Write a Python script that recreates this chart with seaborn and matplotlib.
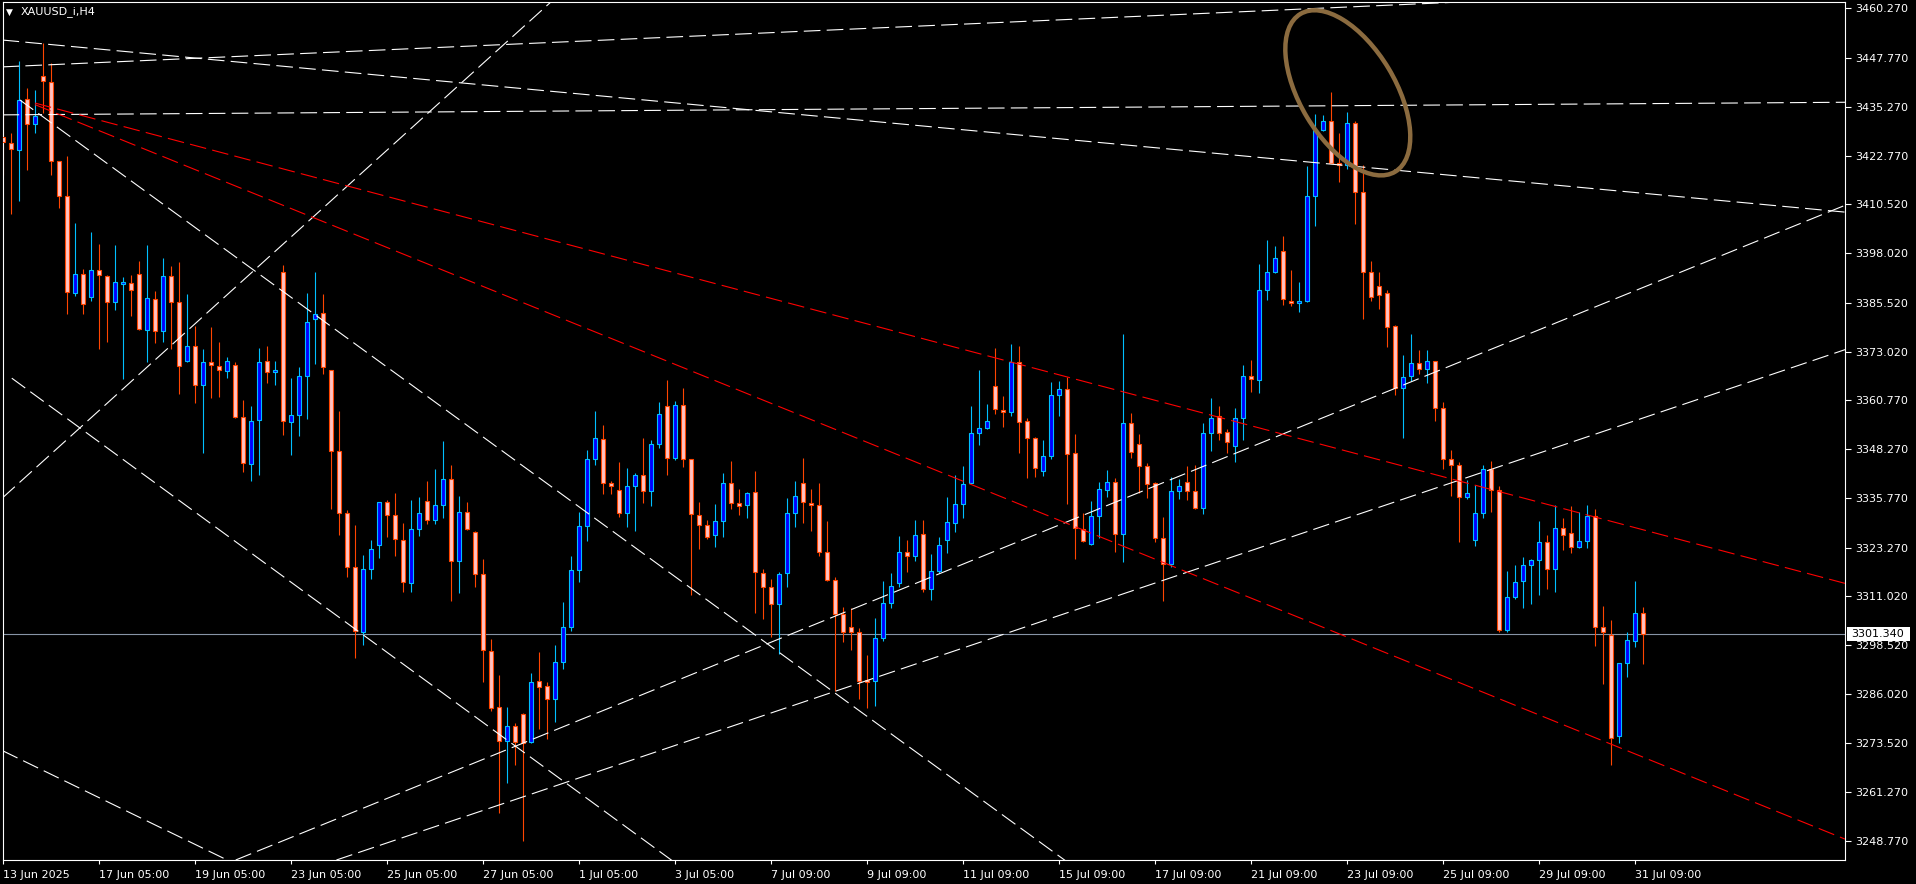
import numpy as np
import pandas as pd
import matplotlib
matplotlib.use("Agg")
import matplotlib.pyplot as plt
import seaborn as sns
from matplotlib.patches import Ellipse, Rectangle
from matplotlib.transforms import IdentityTransform

# XAUUSD_i H4 bars
opens = [3427.6, 3426.0, 3424.3, 3437.3, 3430.8, 3443.2, 3441.6, 3421.4, 3412.6, 3387.9,
         3392.7, 3386.8, 3393.7, 3392.3, 3385.6, 3390.3, 3390.6, 3392.7, 3378.5, 3386.3,
         3378.2, 3392.2, 3385.6, 3370.7, 3374.4, 3364.5, 3370.3, 3369.3, 3368.0, 3369.6,
         3356.4, 3344.4, 3355.6, 3370.6, 3367.8, 3393.4, 3355.1, 3356.9, 3366.8, 3381.3,
         3382.8, 3368.5, 3347.7, 3332.1, 3318.4, 3301.7, 3317.9, 3324.0, 3334.8, 3331.6,
         3325.1, 3314.2, 3328.1, 3335.0, 3330.2, 3334.1, 3340.6, 3319.8, 3332.2, 3327.1,
         3316.5, 3296.9, 3282.8, 3274.1, 3278.0, 3281.1, 3273.8, 3289.3, 3288.0, 3284.9,
         3294.1, 3303.0, 3317.5, 3328.7, 3345.7, 3350.8, 3339.6, 3337.8, 3332.0, 3338.8,
         3341.6, 3337.6, 3349.5, 3359.2, 3345.9, 3359.4, 3345.7, 3331.5, 3328.9, 3326.4,
         3329.9, 3339.6, 3334.5, 3334.0, 3337.3, 3316.7, 3313.2, 3308.8, 3316.7, 3332.0,
         3339.6, 3334.5, 3334.0, 3322.1, 3314.9, 3306.3, 3303.0, 3301.7, 3289.5, 3289.3,
         3300.2, 3309.1, 3314.2, 3322.1, 3321.0, 3326.6, 3312.7, 3317.2, 3325.1, 3329.4,
         3334.3, 3339.6, 3352.3, 3353.6, 3364.2, 3358.1, 3357.6, 3370.3, 3355.3, 3351.0,
         3342.6, 3346.4, 3361.9, 3363.5, 3347.2, 3327.9, 3324.1, 3331.2, 3337.8, 3339.8,
         3326.6, 3354.8, 3349.7, 3343.9, 3339.6, 3325.6, 3319.0, 3337.6, 3339.9, 3337.6,
         3333.3, 3352.3, 3356.6, 3352.5, 3349.0, 3356.3, 3366.8, 3365.9, 3388.6, 3393.4,
         3398.5, 3385.9, 3385.3, 3385.9, 3412.5, 3429.4, 3431.6, 3420.9, 3420.4, 3431.1,
         3413.6, 3393.2, 3389.8, 3387.9, 3379.5, 3363.9, 3366.8, 3370.1, 3368.6, 3370.6,
         3358.6, 3345.7, 3344.2, 3336.0, 3325.1, 3332.0, 3343.1, 3337.8, 3302.2, 3310.6,
         3314.7, 3318.8, 3320.0, 3324.6, 3317.8, 3328.2, 3326.9, 3323.3, 3324.9, 3331.2,
         3303.0, 3301.0, 3275.3, 3293.9, 3299.5, 3306.6]
highs = [3444.6, 3428.6, 3446.9, 3440.0, 3439.6, 3451.5, 3446.4, 3421.4, 3422.7, 3405.7,
         3394.0, 3403.4, 3400.3, 3392.5, 3400.1, 3392.0, 3392.4, 3396.1, 3400.1, 3388.4,
         3396.8, 3394.8, 3395.8, 3387.8, 3379.5, 3373.6, 3379.2, 3375.4, 3371.6, 3370.3,
         3360.8, 3359.3, 3373.9, 3374.4, 3370.6, 3395.0, 3366.3, 3369.1, 3387.9, 3393.4,
         3387.6, 3368.5, 3358.0, 3332.9, 3329.0, 3321.4, 3325.2, 3334.8, 3335.3, 3337.1,
         3329.5, 3335.3, 3336.1, 3340.1, 3343.2, 3350.3, 3344.2, 3336.4, 3334.8, 3327.4,
         3320.3, 3300.0, 3290.9, 3282.8, 3278.7, 3281.2, 3291.5, 3296.7, 3289.0, 3298.5,
         3309.5, 3321.1, 3332.2, 3348.1, 3358.0, 3354.4, 3340.3, 3344.9, 3343.6, 3342.1,
         3351.0, 3350.5, 3360.2, 3365.8, 3360.4, 3363.7, 3345.7, 3334.8, 3330.2, 3334.3,
         3342.1, 3345.2, 3338.1, 3337.3, 3342.6, 3317.8, 3315.2, 3317.0, 3335.8, 3340.3,
         3346.0, 3338.1, 3339.6, 3329.9, 3315.7, 3308.1, 3307.8, 3302.8, 3295.9, 3305.3,
         3314.7, 3316.7, 3326.1, 3325.1, 3330.2, 3330.2, 3321.5, 3325.9, 3336.0, 3341.6,
         3343.9, 3359.2, 3368.5, 3359.7, 3373.9, 3361.7, 3374.9, 3374.6, 3356.3, 3351.3,
         3350.5, 3365.3, 3365.5, 3366.5, 3352.0, 3332.0, 3335.0, 3339.8, 3342.9, 3340.9,
         3377.5, 3357.4, 3352.0, 3344.7, 3339.8, 3331.0, 3341.1, 3340.6, 3343.9, 3344.2,
         3354.8, 3361.2, 3359.2, 3353.3, 3358.6, 3369.6, 3370.8, 3395.2, 3401.5, 3399.8,
         3402.5, 3393.8, 3390.7, 3420.2, 3433.3, 3433.1, 3439.0, 3428.5, 3434.0, 3431.6,
         3420.4, 3396.0, 3393.4, 3388.8, 3379.8, 3372.1, 3377.5, 3373.5, 3373.5, 3370.6,
         3360.2, 3348.0, 3344.9, 3340.4, 3339.1, 3344.2, 3345.2, 3338.8, 3317.2, 3318.8,
         3320.8, 3320.3, 3329.9, 3326.4, 3334.0, 3330.7, 3333.8, 3332.2, 3334.0, 3333.0,
         3308.3, 3304.8, 3293.9, 3301.7, 3314.7, 3308.1]
lows = [3417.9, 3408.0, 3411.4, 3419.3, 3428.7, 3433.7, 3417.9, 3409.5, 3382.5, 3387.3,
        3382.7, 3386.0, 3373.8, 3375.6, 3383.5, 3366.2, 3382.2, 3378.5, 3370.5, 3375.3,
        3375.6, 3373.8, 3362.4, 3370.5, 3360.1, 3347.4, 3361.3, 3361.6, 3366.4, 3356.1,
        3342.5, 3340.3, 3341.8, 3365.0, 3364.6, 3351.9, 3346.9, 3351.7, 3355.9, 3369.8,
        3367.3, 3333.1, 3326.5, 3315.9, 3295.3, 3298.5, 3315.3, 3320.7, 3325.9, 3321.1,
        3311.9, 3312.0, 3326.2, 3329.2, 3329.2, 3330.9, 3309.8, 3311.8, 3327.7, 3313.2,
        3289.2, 3281.8, 3255.9, 3263.5, 3268.0, 3248.8, 3273.5, 3277.2, 3274.5, 3279.0,
        3292.4, 3302.1, 3314.4, 3325.0, 3344.3, 3336.8, 3336.8, 3331.0, 3328.6, 3327.5,
        3334.5, 3333.7, 3348.5, 3341.8, 3345.4, 3343.8, 3311.3, 3323.0, 3325.4, 3323.5,
        3326.0, 3333.0, 3331.5, 3330.7, 3306.6, 3305.0, 3300.5, 3296.2, 3313.2, 3328.4,
        3329.6, 3327.4, 3321.1, 3314.7, 3286.9, 3299.2, 3297.2, 3284.9, 3282.6, 3283.1,
        3299.4, 3307.8, 3313.2, 3317.0, 3319.8, 3311.9, 3309.9, 3316.7, 3321.8, 3327.1,
        3330.9, 3339.6, 3349.3, 3353.3, 3357.1, 3353.8, 3356.6, 3347.2, 3340.9, 3341.1,
        3341.4, 3345.7, 3356.6, 3334.3, 3320.3, 3324.6, 3323.8, 3325.6, 3336.0, 3322.1,
        3319.5, 3345.9, 3337.1, 3335.8, 3324.6, 3309.6, 3318.3, 3335.5, 3335.3, 3333.0,
        3331.7, 3347.7, 3350.5, 3347.2, 3344.9, 3350.5, 3362.7, 3362.5, 3386.2, 3393.0,
        3384.9, 3384.7, 3383.2, 3385.6, 3405.0, 3429.2, 3420.9, 3416.2, 3419.5, 3405.5,
        3381.4, 3386.0, 3383.9, 3374.2, 3362.0, 3351.2, 3365.6, 3367.3, 3365.0, 3355.3,
        3343.1, 3336.4, 3324.8, 3335.5, 3323.7, 3330.7, 3332.2, 3301.7, 3301.7, 3310.1,
        3307.8, 3308.8, 3311.1, 3312.7, 3311.9, 3322.6, 3321.8, 3323.1, 3323.1, 3298.2,
        3288.5, 3268.0, 3273.5, 3290.3, 3297.9, 3293.6]
closes = [3426.3, 3424.6, 3437.1, 3430.8, 3433.0, 3441.8, 3421.4, 3412.6, 3388.2, 3392.7,
          3385.1, 3393.7, 3392.4, 3385.6, 3390.7, 3390.6, 3388.6, 3378.7, 3386.6, 3378.2,
          3392.2, 3385.6, 3369.3, 3374.4, 3364.5, 3370.3, 3369.6, 3368.3, 3370.6, 3356.4,
          3344.7, 3355.3, 3370.3, 3367.8, 3368.3, 3355.3, 3356.9, 3366.8, 3380.5, 3382.6,
          3369.1, 3347.7, 3332.0, 3318.3, 3302.1, 3317.9, 3323.0, 3334.8, 3331.6, 3325.4,
          3314.6, 3328.1, 3332.0, 3330.2, 3334.1, 3340.6, 3319.9, 3332.2, 3327.9, 3316.5,
          3297.2, 3282.6, 3274.1, 3278.0, 3273.9, 3273.5, 3289.0, 3287.8, 3284.7, 3294.1,
          3303.0, 3317.5, 3328.7, 3345.7, 3351.0, 3339.6, 3338.8, 3332.0, 3338.8, 3341.6,
          3337.6, 3349.5, 3357.1, 3345.9, 3359.4, 3345.7, 3331.7, 3328.9, 3325.9, 3329.9,
          3339.6, 3334.5, 3333.8, 3337.0, 3317.0, 3313.2, 3308.8, 3316.5, 3332.0, 3336.3,
          3334.8, 3334.0, 3322.1, 3314.9, 3306.3, 3301.7, 3301.7, 3289.3, 3289.0, 3300.2,
          3309.1, 3313.4, 3322.1, 3321.0, 3326.4, 3312.7, 3317.2, 3323.8, 3329.7, 3334.3,
          3339.3, 3352.3, 3353.6, 3355.4, 3358.4, 3357.6, 3370.3, 3355.1, 3351.0, 3343.4,
          3346.4, 3361.9, 3363.5, 3347.0, 3328.2, 3324.9, 3331.2, 3338.1, 3339.8, 3326.6,
          3354.8, 3347.5, 3343.9, 3339.3, 3325.6, 3319.0, 3337.6, 3338.9, 3337.6, 3333.3,
          3352.3, 3356.3, 3352.3, 3350.0, 3356.3, 3366.8, 3366.0, 3388.6, 3393.2, 3396.9,
          3386.3, 3385.3, 3386.0, 3412.5, 3429.4, 3431.6, 3420.9, 3420.4, 3431.1, 3413.6,
          3393.2, 3387.0, 3387.5, 3379.2, 3363.9, 3366.7, 3370.1, 3368.6, 3370.6, 3358.6,
          3345.7, 3344.2, 3336.0, 3337.0, 3332.0, 3343.1, 3337.8, 3302.2, 3310.6, 3314.6,
          3318.8, 3320.0, 3324.6, 3317.8, 3328.2, 3326.4, 3323.3, 3324.9, 3331.2, 3303.0,
          3301.7, 3274.8, 3293.9, 3299.7, 3306.6, 3301.34]

date_labels = ["13 Jun 2025", "17 Jun 05:00", "19 Jun 05:00", "23 Jun 05:00", "25 Jun 05:00",
               "27 Jun 05:00", "1 Jul 05:00", "3 Jul 05:00", "7 Jul 09:00", "9 Jul 09:00",
               "11 Jul 09:00", "15 Jul 09:00", "17 Jul 09:00", "21 Jul 09:00", "23 Jul 09:00",
               "25 Jul 09:00", "29 Jul 09:00", "31 Jul 09:00"]
price_labels = ["3460.270", "3447.770", "3435.270", "3422.770", "3410.520", "3398.020",
                "3385.520", "3373.020", "3360.770", "3348.270", "3335.770", "3323.270",
                "3311.020", "3298.520", "3286.020", "3273.520", "3261.270", "3248.770"]

# trend lines: two anchors (bar, price); rays start at the first anchor
white_lines = [[(0.0, 3452.2), (230.2, 3408.5)],
               [(0.0, 3445.4), (178.0, 3461.5)],
               [(0.0, 3433.2), (230.2, 3436.4)],
               [(0.0, 3271.6), (28.0, 3243.9)],
               [(0.0, 3336.0), (53.1, 3433.6)],
               [(29.6, 3244.3), (229.5, 3409.6)],
               [(59.6, 3256.2), (229.6, 3373.1)]]
white_rays = [[(2.1, 3437.0), (61.2, 3349.6)],
              [(1.1, 3366.3), (21.1, 3336.6)]]
red_rays = [[(4.0, 3436.2), (230.0, 3314.3)],
            [(4.0, 3435.8), (230.0, 3249.4)]]
# highlight ellipse around the top: centre (bar, price), semi-axes in px, tilt
ellipse_centre = (168.1, 3438.8)
ellipse_axes_px = (92.0, 47.5)
ellipse_tilt = -59.0

sns.set_theme(style="dark", rc={"axes.facecolor": "black", "figure.facecolor": "black"})
plt.rcParams["font.family"] = ["DejaVu Sans"]
plt.rcParams["lines.scale_dashes"] = False

df = pd.DataFrame({"open": opens, "high": highs, "low": lows, "close": closes})
df["bull"] = df["close"] >= df["open"]
edge = np.where(df["bull"], "#00BFFF", "#FF4500")
fill = np.where(df["bull"], "#0000FF", "#FFC1C1")

W, H = 1916, 884
fig = plt.figure(figsize=(W / 100, H / 100), dpi=100)
ax = fig.add_axes([2.5 / W, 24 / H, (1845 - 2.5) / W, (860 - 2.3) / H])
ax.set_facecolor("black")
ax.set_xlim(-0.06, 230.25)
ax.set_ylim(3243.88, 3461.8)

ax.vlines(df.index, df["low"], df["high"], colors=edge, lw=0.8, zorder=2)
body = np.maximum((df["close"] - df["open"]).abs(), 0.35)
ax.bar(df.index, body, bottom=df[["open", "close"]].min(axis=1), width=0.56,
       color=fill, edgecolor=edge, linewidth=0.8, zorder=3)

last = closes[-1]
ax.axhline(last, color="#8794A6", lw=0.8, zorder=1.5)

dash = (12, 4.5)
for (a, b) in white_lines:
    ax.axline(a, b, color="white", lw=0.8, ls=(0, dash), zorder=4)
xmax = ax.get_xlim()[1]
for rays, col in ((white_rays, "white"), (red_rays, "#FF0000")):
    for (a, b) in rays:
        slope = (b[1] - a[1]) / (b[0] - a[0])
        ax.plot([a[0], xmax], [a[1], a[1] + slope * (xmax - a[0])],
                color=col, lw=0.8, ls=(0, dash), zorder=4)

cx, cy = ax.transData.transform(ellipse_centre)
ax.add_patch(Ellipse((cx, cy), 2 * ellipse_axes_px[0], 2 * ellipse_axes_px[1],
                     angle=ellipse_tilt, transform=IdentityTransform(), fill=False,
                     ec="#8B6B3F", lw=3.2, zorder=5))

for s in ax.spines.values():
    s.set_color("white")
    s.set_linewidth(0.8)

ax.set_yticks([float(p) for p in price_labels])
ax.set_yticklabels(price_labels)
ax.yaxis.tick_right()
ax.tick_params(axis="y", right=True, left=False, labelright=True, labelleft=False,
               length=4, width=0.8, color="white", labelcolor="white", labelsize=8, pad=3)
ax.set_xticks(np.arange(len(date_labels)) * 12)
ax.set_xticklabels(date_labels, ha="left")
ax.tick_params(axis="x", bottom=True, length=3, width=0.8, color="white",
               labelcolor="white", labelsize=8, pad=4)
ax.grid(False)

# current price tag
yp = ax.transData.transform((0, last))[1]
fig.add_artist(Rectangle((1847, yp - 7), 63, 14, transform=IdentityTransform(),
                         facecolor="white", edgecolor="none"))
fig.text(1851, yp, f"{last:.3f}", transform=IdentityTransform(), va="center",
         ha="left", color="black", fontsize=8)

fig.text(6 / W, 1 - 12 / H, "\u25bc", color="white", fontsize=6.5, va="center")
fig.text(21 / W, 1 - 12 / H, "XAUUSD_i,H4", color="white", fontsize=8, va="center")

fig.savefig("out.png", dpi=100, facecolor="black")
